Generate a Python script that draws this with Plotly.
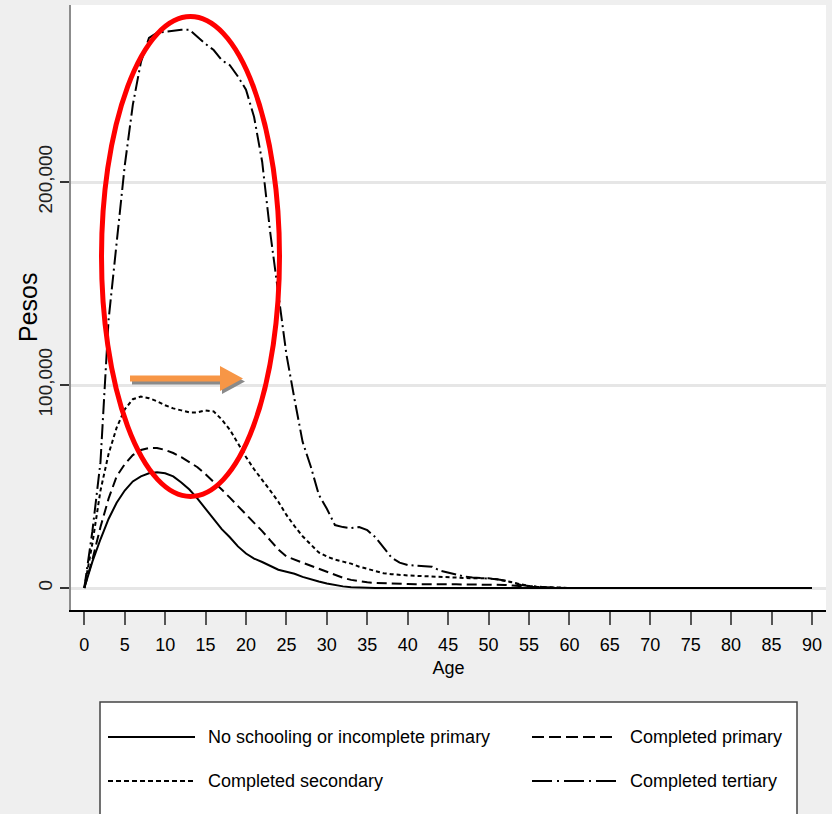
import plotly.graph_objects as go

# ---------------- data (pesos by age) ----------------
ages = [0, 1, 2, 3, 4, 5, 6, 7, 8, 9, 10, 11, 12, 13, 14, 15, 16, 17, 18, 19,
        20, 21, 22, 23, 24, 25, 26, 27, 28, 29, 30, 31, 32, 33, 34, 35, 36, 37, 38, 39,
        40, 41, 42, 43, 44, 45, 46, 47, 48, 49, 50, 51, 52, 53, 54, 55, 56, 57, 58, 59,
        60, 65, 70, 75, 80, 85, 90]

no_schooling = [0, 13000, 24000, 34000, 42000, 48000, 52500, 55000, 56500, 57000,
                56500, 55000, 52000, 48500, 44000, 39000, 34000, 29000, 25000, 20500,
                17000, 14500, 12800, 11000, 9000, 8000, 7000, 5500, 4200, 3200,
                2200, 1400, 800, 400, 200, 100, 0, 0, 0, 0,
                0, 0, 0, 0, 0, 0, 0, 0, 0, 0,
                0, 0, 0, 0, 0, 0, 0, 0, 0, 0,
                0, 0, 0, 0, 0, 0, 0]

primary = [0, 14000, 30000, 44000, 55000, 61000, 65500, 68000, 69000, 69000,
           68000, 66500, 64500, 62000, 59500, 56000, 52500, 48500, 44500, 40500,
           36500, 32500, 28000, 23500, 19000, 15500, 14000, 12500, 11000, 9500,
           8000, 6500, 5000, 4000, 3300, 2800, 2500, 2300, 2100, 2000,
           2000, 1900, 1800, 1800, 1800, 1800, 1800, 1800, 1800, 1800,
           1700, 1600, 1500, 1200, 800, 500, 300, 200, 100, 0,
           0, 0, 0, 0, 0, 0, 0]

secondary = [0, 22000, 48000, 66000, 79000, 88000, 93000, 94300, 93500, 92000,
             90000, 88500, 87500, 86500, 86500, 87500, 87000, 83000, 78000, 71000,
             64500, 58500, 53500, 48000, 42500, 36000, 30500, 25500, 21500, 17500,
             15500, 14000, 13000, 12000, 10500, 9500, 8300, 7300, 6800, 6400,
             6200, 6000, 5800, 5600, 5400, 5200, 5000, 4800, 4800, 4800,
             4800, 4300, 3600, 2800, 1800, 1000, 600, 400, 200, 100,
             0, 0, 0, 0, 0, 0, 0]

tertiary = [0, 28000, 62000, 132000, 170000, 208000, 238000, 259000, 271000, 273500,
            274000, 274500, 275000, 275000, 271500, 268000, 265000, 260000, 257500, 252000,
            245500, 232000, 210000, 175000, 145000, 115000, 93000, 72000, 60000, 46000,
            39000, 31000, 30000, 29500, 30000, 28500, 25000, 20000, 15000, 12500,
            11300, 11000, 10800, 10500, 8500, 7500, 6500, 5700, 5200, 5000,
            4800, 4300, 3700, 2500, 1500, 1000, 600, 400, 200, 100,
            0, 0, 0, 0, 0, 0, 0]

series_names = ["No schooling or incomplete primary", "Completed primary",
                "Completed secondary", "Completed tertiary"]
series_values = [no_schooling, primary, secondary, tertiary]
series_dash = ["solid", "10px,5px", "4px,3px", "15px,4px,2px,4px"]
legend_dash = ["solid", "12px,5px", "5px,3px", "20px,5px,2px,5px"]

x_ticks = [0, 5, 10, 15, 20, 25, 30, 35, 40, 45, 50, 55, 60, 65, 70, 75, 80, 85, 90]
y_ticks = [0, 100000, 200000]
y_ticklabels = ["0", "100,000", "200,000"]
x_title = "Age"
y_title = "Pesos"

SANS = "Liberation Sans, Arial, sans-serif"

fig = go.Figure()
for name, vals, dash in zip(series_names, series_values, series_dash):
    fig.add_trace(go.Scatter(x=ages, y=vals, mode="lines", name=name,
                             line=dict(color="black", width=2, dash=dash),
                             showlegend=False))

# plot area geometry in pixels
L, R, T, B = 71, 826, 5, 610


def px_x(px):
    return (px - L) / (R - L)


def px_y(py):
    return (B - py) / (B - T)


def P(px, py):
    return f"{px_x(px):.5f},{px_y(py):.5f}"


def poly(pts):
    return "M" + " L".join(P(a, b) for a, b in pts) + " Z"


shapes = []
# red ellipse
shapes.append(dict(type="circle", xref="paper", yref="paper",
                   x0=px_x(101.5), x1=px_x(279.5), y0=px_y(496.5), y1=px_y(16.5),
                   line=dict(color="#ff0000", width=5), layer="above"))
# arrow shadow + arrow
arrow = [(130, 375.5), (220, 375.5), (220, 366), (243, 378.5), (220, 391),
         (220, 381.5), (130, 381.5)]
shadow = [(a + 2, b + 3) for a, b in arrow]
shapes.append(dict(type="path", xref="paper", yref="paper", path=poly(shadow),
                   fillcolor="#8a8a8a", line=dict(width=0), layer="above"))
shapes.append(dict(type="path", xref="paper", yref="paper", path=poly(arrow),
                   fillcolor="#f79646", line=dict(width=0), layer="above"))

# legend box
shapes.append(dict(type="rect", xref="paper", yref="paper",
                   x0=px_x(100), x1=px_x(797), y0=px_y(830), y1=px_y(702),
                   fillcolor="white", line=dict(color="#444444", width=1.5), layer="above"))

legend_pos = [(108, 195, 208, 737), (532, 616, 630, 737),
              (108, 195, 208, 781), (532, 616, 630, 781)]
annotations = []
for name, dash, (lx0, lx1, tx, ly) in zip(series_names, legend_dash, legend_pos):
    shapes.append(dict(type="line", xref="paper", yref="paper",
                       x0=px_x(lx0), x1=px_x(lx1), y0=px_y(ly), y1=px_y(ly),
                       line=dict(color="black", width=2, dash=dash), layer="above"))
    annotations.append(dict(xref="paper", yref="paper", x=px_x(tx), y=px_y(ly),
                            text=name, showarrow=False,
                            xanchor="left", yanchor="middle", xshift=-2,
                            font=dict(family=SANS, size=18, color="black")))

# y axis title
annotations.append(dict(xref="paper", yref="paper", x=px_x(28), y=px_y(308),
                        text=y_title, showarrow=False, textangle=-90,
                        xanchor="center", yanchor="middle",
                        font=dict(family=SANS, size=25, color="black")))

fig.update_layout(
    width=832, height=814,
    margin=dict(l=L, r=832 - R, t=T, b=814 - B, autoexpand=False),
    paper_bgcolor="#efefef", plot_bgcolor="white",
    shapes=shapes, annotations=annotations, showlegend=False,
    xaxis=dict(range=[(L - 84.3) / 8.085, (R - 84.3) / 8.085],
               tickvals=x_ticks, ticktext=[str(v) for v in x_ticks],
               showgrid=False, zeroline=False,
               showline=True, linecolor="black", linewidth=2,
               ticks="outside", ticklen=13, tickwidth=1.5, tickcolor="#555555",
               tickfont=dict(family=SANS, size=18, color="black"),
               ticklabelstandoff=4,
               title=dict(text=x_title, font=dict(family=SANS, size=18, color="black"),
                          standoff=8),
               automargin=False, fixedrange=True),
    yaxis=dict(range=[(588 - B) / 0.00203, (588 - T) / 0.00203],
               tickvals=y_ticks, ticktext=y_ticklabels, tickangle=-90,
               showgrid=True, gridcolor="#e6e6e6", gridwidth=3, zeroline=False,
               showline=True, linecolor="#8c8c8c", linewidth=2,
               ticks="outside", ticklen=9, tickwidth=2, tickcolor="#333333",
               tickfont=dict(family=SANS, size=19, color="#222222"),
               automargin=False, fixedrange=True),
)

fig.write_html("out.html")
